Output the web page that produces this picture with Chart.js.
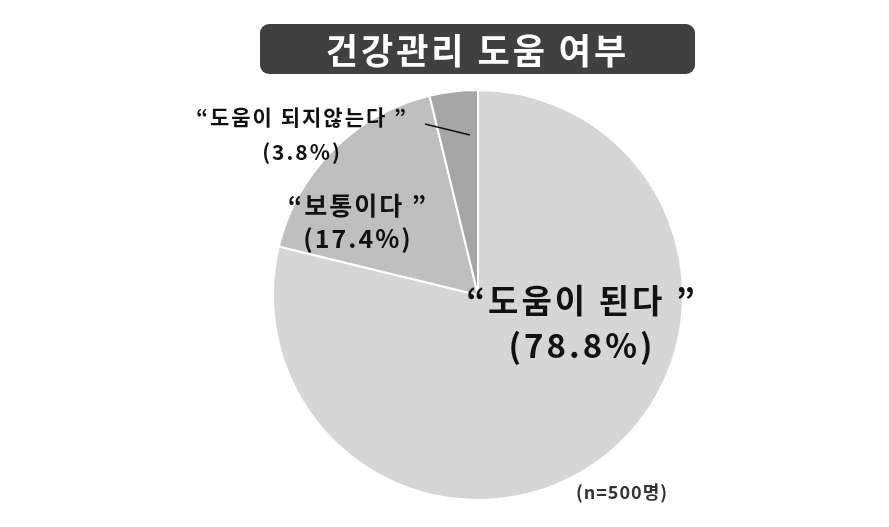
<!DOCTYPE html>
<html>
<head>
<meta charset="utf-8">
<script src="https://cdn.jsdelivr.net/npm/chart.js@4"></script>
<style>
  body { margin: 0; background: #fff; }
  #wrap { position: relative; width: 889px; height: 527px; }
  #titulo {
    position: absolute; left: 260px; top: 24px; width: 435px; height: 50px;
    background: #404040; border-radius: 9px; color: #fff;
    font: bold 35px "Noto Sans CJK KR", sans-serif; text-align: center; line-height: 50px;
    letter-spacing: 3px;
  }
</style>
</head>
<body>
<div id="wrap">
  <canvas id="pieChart" width="889" height="527"></canvas>
  <div id="titulo">건강관리 도움 여부</div>
</div>
<script>
// datos
const categorias = ['“도움이 된다 ”', '“보통이다 ”', '“도움이 되지않는다 ”'];
const valores = [78.8, 17.4, 3.8];
const colores = ['#d6d6d6', '#bfbfbf', '#a6a6a6'];
const nota = '(n=500명)';

// etiquetas: dibujadas junto a cada sector
const etiquetasPlugin = {
  id: 'etiquetas',
  afterDraw(chart) {
    const ctx = chart.ctx;
    const arcos = chart.getDatasetMeta(0).data;
    const fuente = '"Noto Sans CJK KR", sans-serif';
    // posición relativa al centro del pastel
    const cx = arcos[0].x, cy = arcos[0].y;
    const conf = [
      { dx: 104, dy: 5, size: 33, gap: 45, esp: 3 },
      { dx: -120, dy: -90, size: 25, gap: 33, esp: 2 },
      { dx: -176, dy: -178, size: 21, gap: 35, esp: 2 }
    ];
    ctx.save();
    ctx.fillStyle = '#111';
    ctx.textAlign = 'center';
    ctx.textBaseline = 'middle';
    valores.forEach((v, i) => {
      const c = conf[i];
      const x = cx + c.dx, y = cy + c.dy;
      ctx.font = 'bold ' + c.size + 'px ' + fuente;
      ctx.letterSpacing = c.esp + 'px';
      ctx.fillText(categorias[i], x, y);
      ctx.fillText('(' + v.toFixed(1) + '%)', x, y + c.gap);
    });
    // línea guía del sector pequeño
    ctx.beginPath();
    ctx.moveTo(cx - 53, cy - 171);
    ctx.lineTo(cx - 8, cy - 160);
    ctx.lineWidth = 1.5;
    ctx.strokeStyle = '#111';
    ctx.stroke();
    // nota
    ctx.font = 'bold 18px ' + fuente;
    ctx.letterSpacing = '1px';
    ctx.fillStyle = '#333';
    ctx.fillText(nota, cx + 144, cy + 197);
    ctx.restore();
  }
};

new Chart(document.getElementById('pieChart'), {
  type: 'pie',
  data: {
    labels: categorias,
    datasets: [{
      data: valores,
      backgroundColor: colores,
      borderColor: '#fff',
      borderWidth: 2
    }]
  },
  options: {
    responsive: false,
    animation: false,
    layout: { padding: { top: 89, bottom: 26, left: 272, right: 205 } },
    plugins: { legend: { display: false }, tooltip: { enabled: false } }
  },
  plugins: [etiquetasPlugin]
});
</script>
</body>
</html>
